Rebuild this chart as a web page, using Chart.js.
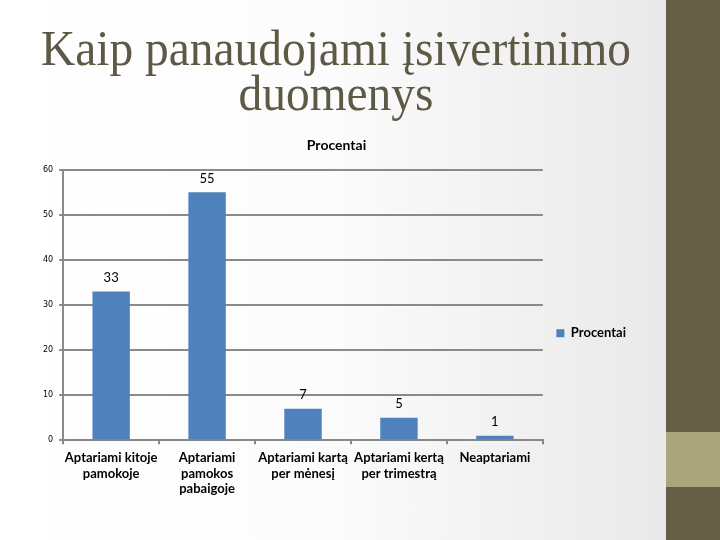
<!DOCTYPE html>
<html>
<head>
<meta charset="utf-8">
<script src="https://cdn.jsdelivr.net/npm/chart.js@4"></script>
<style>
  html, body { margin:0; padding:0; }
  body { width:720px; height:540px; overflow:hidden; }
  #slide {
    position:relative; width:720px; height:540px;
    background: linear-gradient(90deg, #ffffff 0%, #fcfcfc 45%, #e9e9ea 92%);
  }
  #title {
    position:absolute; left:0; top:26px; width:672px;
    text-align:center; font-family:"Liberation Serif", serif;
    font-size:51px; line-height:45px; color:#5e5944;
    transform:scaleX(0.93); transform-origin:336px 0;
  }
  #band { position:absolute; left:666px; top:0; width:54px; height:540px; background:#675e47; }
  #bandLight { position:absolute; left:666px; top:432px; width:54px; height:55px; background:#a9a67e; }
  #wrap { position:absolute; left:0; top:130px; width:660px; height:373px; }
</style>
</head>
<body>
<div id="slide">
  <div id="title">Kaip panaudojami įsivertinimo<br>duomenys</div>
  <div id="band"></div>
  <div id="bandLight"></div>
  <div id="wrap"><canvas id="myChart" width="660" height="373"></canvas></div>
</div>
<script>
// duomenys
const kategorijos = [
  ['Aptariami kitoje', 'pamokoje'],
  ['Aptariami', 'pamokos', 'pabaigoje'],
  ['Aptariami kartą', 'per mėnesį'],
  ['Aptariami kertą', 'per trimestrą'],
  ['Neaptariami']
];
const procentai = [33, 55, 7, 5, 1];
const serijosPavadinimas = 'Procentai';
const yTicks = [0, 10, 20, 30, 40, 50, 60];

// reikšmės virš stulpelių
const reiksmiuPlugin = {
  id: 'reiksmes',
  afterDatasetsDraw(chart){
    const ctx = chart.ctx;
    const meta = chart.getDatasetMeta(0);
    ctx.save();
    ctx.font = '13px Lato, sans-serif';
    ctx.fillStyle = '#000';
    ctx.textAlign = 'center';
    ctx.textBaseline = 'middle';
    meta.data.forEach((bar, i) => {
      ctx.fillText(String(procentai[i]), bar.x, bar.y - 14);
    });
    ctx.restore();
  }
};

(function(){
  'use strict';
  const ctx = document.getElementById('myChart').getContext('2d');
  new Chart(ctx, {
    type: 'bar',
    data: {
      labels: kategorijos,
      datasets: [{
        label: serijosPavadinimas,
        data: procentai,
        backgroundColor: '#4f81bd',
        categoryPercentage: 1,
        barPercentage: 0.39
      }]
    },
    options: {
      responsive: false,
      animation: false,
      layout: { padding: { left: 37, right: 24, top: 6, bottom: 0 } },
      plugins: {
        title: {
          display: true, text: serijosPavadinimas, color: '#000',
          font: { family: 'Lato, sans-serif', size: 14, weight: 'bold' },
          padding: { top: 1, bottom: 16 }
        },
        legend: {
          position: 'right',
          title: { display: true, text: ' ', padding: { top: 0, bottom: 13 }, font: { size: 12 } },
          labels: {
            boxWidth: 8, boxHeight: 8, color: '#000', padding: 13.5,
            font: { family: 'Lato, sans-serif', size: 13, weight: 'bold' }
          }
        },
        tooltip: { enabled: false }
      },
      scales: {
        x: {
          grid: { drawOnChartArea: false, drawTicks: true, tickLength: 4, color: '#888', lineWidth: 2 },
          border: { color: '#888', width: 2 },
          ticks: {
            color: '#000', padding: 6, maxRotation: 0, autoSkip: false,
            font: { family: 'Lato, sans-serif', size: 13, weight: 'bold', lineHeight: 1.2 }
          }
        },
        y: {
          min: 0, max: 60,
          afterBuildTicks(axis){ axis.ticks = yTicks.map(v => ({ value: v })); },
          grid: { color: '#8a8a8a', lineWidth: 2, tickLength: 4 },
          border: { color: '#8a8a8a', width: 2 },
          ticks: { color: '#000', padding: 6, font: { family: 'DejaVu Sans, sans-serif', size: 8 } }
        }
      }
    },
    plugins: [reiksmiuPlugin]
  });
})();
</script>
</body>
</html>
